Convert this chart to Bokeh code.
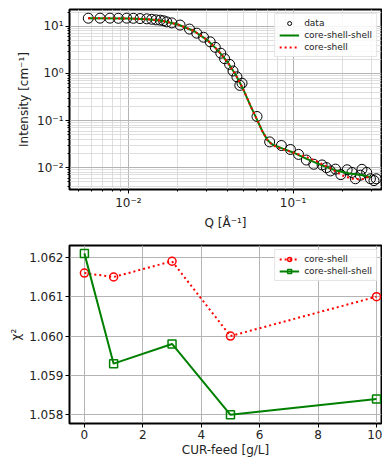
from bokeh.plotting import figure
from bokeh.layouts import column
from bokeh.models import (FixedTicker, CustomJSTickFormatter, Legend, LegendItem,
                          NumeralTickFormatter)
from bokeh.embed import file_html
from bokeh.resources import INLINE

# ---- top panel data (SAXS curve) ----
q_data = [0.00571, 0.00673, 0.00773, 0.00869, 0.00977, 0.01072, 0.01177, 0.01293,
          0.01387, 0.01474, 0.0156, 0.01634, 0.0171, 0.01835, 0.0206, 0.0235,
          0.0260, 0.0286, 0.0314, 0.0337, 0.0364, 0.0384, 0.0412, 0.0432,
          0.0456, 0.0475, 0.0490, 0.0604, 0.0721, 0.0849, 0.0964, 0.108,
          0.1204, 0.1336, 0.150, 0.1595, 0.1686, 0.181, 0.195, 0.213,
          0.228, 0.239, 0.256, 0.262, 0.280, 0.295, 0.310, 0.320]
i_data = [14.96, 15.0, 15.0, 14.9, 15.0, 14.9, 14.7, 14.5,
          14.2, 13.8, 13.6, 13.2, 12.5, 11.9, 10.7, 8.8,
          7.2, 5.9, 4.7, 3.6, 2.7, 2.06, 1.56, 1.13,
          0.85, 0.56, 0.62, 0.122, 0.0352, 0.0295, 0.0243, 0.0191,
          0.0145, 0.0118, 0.0114, 0.0100, 0.0085, 0.0093, 0.0071, 0.0090,
          0.0079, 0.0058, 0.0069, 0.0092, 0.0079, 0.0058, 0.0053, 0.0058]

q_css = [0.0057, 0.01, 0.013, 0.016, 0.02, 0.025, 0.03, 0.035, 0.04, 0.045, 0.05,
         0.055, 0.06, 0.065, 0.07, 0.075, 0.085, 0.1, 0.12, 0.15, 0.18, 0.22, 0.26, 0.295]
i_css = [14.9, 14.8, 14.2, 13.2, 11.0, 8.0, 5.2, 3.1, 1.75, 0.92, 0.45,
         0.21, 0.11, 0.06, 0.038, 0.031, 0.026, 0.021, 0.0155, 0.0112, 0.0088, 0.0075, 0.0070, 0.0063]

q_cs = [0.0057, 0.01, 0.013, 0.016, 0.02, 0.025, 0.03, 0.035, 0.04, 0.045, 0.05,
        0.055, 0.06, 0.065, 0.07, 0.075, 0.085, 0.1, 0.12, 0.14, 0.17, 0.2, 0.23, 0.26, 0.28, 0.295]
i_cs = [14.9, 14.8, 14.2, 13.2, 11.0, 8.0, 5.2, 3.1, 1.75, 0.92, 0.45,
        0.21, 0.11, 0.06, 0.038, 0.030, 0.025, 0.021, 0.017, 0.0135, 0.0095, 0.0068, 0.0058, 0.0056, 0.0062, 0.0065]

# ---- bottom panel data (chi^2) ----
feed = [0, 1, 3, 5, 10]
chi_cs = [1.0616, 1.0615, 1.0619, 1.0600, 1.0610]
chi_css = [1.0621, 1.0593, 1.0598, 1.0580, 1.0584]

FONT = "DejaVu Sans"

log_fmt = CustomJSTickFormatter(code="""
const e = Math.round(Math.log10(tick));
const sup = {'-':'\\u207b','0':'\\u2070','1':'\\u00b9','2':'\\u00b2','3':'\\u00b3',
             '4':'\\u2074','5':'\\u2075','6':'\\u2076','7':'\\u2077','8':'\\u2078','9':'\\u2079'};
return '10' + String(e).split('').map(c => sup[c]).join('');
""")


def style(p):
    p.outline_line_color = "black"
    p.outline_line_width = 2
    p.background_fill_color = "white"
    p.border_fill_color = "white"
    for ax in (p.xaxis, p.yaxis):
        ax.axis_line_color = "black"
        ax.axis_line_width = 1
        ax.major_tick_in = 0
        ax.major_tick_out = 4
        ax.minor_tick_in = 0
        ax.minor_tick_out = 2
        ax.major_label_text_font = FONT
        ax.major_label_text_font_size = "12px"
        ax.major_label_text_color = "#222222"
        ax.axis_label_text_font = FONT
        ax.axis_label_text_font_size = "12px"
        ax.axis_label_text_font_style = "normal"
        ax.axis_label_text_color = "#222222"
        ax.major_label_standoff = 2
        ax.axis_label_standoff = 3
    p.xgrid.grid_line_color = "#b4b4b4"
    p.ygrid.grid_line_color = "#b4b4b4"
    p.xgrid.grid_line_width = 1
    p.ygrid.grid_line_width = 1


# ---------------- top figure ----------------
p1 = figure(width=382, height=232, x_axis_type="log", y_axis_type="log",
            x_range=(0.00439, 0.3444), y_range=(0.00343, 22.9),
            output_backend="svg", toolbar_location=None,
            min_border_left=69, min_border_right=1, min_border_top=9, min_border_bottom=43)
style(p1)
dec_x = [0.001, 0.01, 0.1]
dec_y = [0.001, 0.01, 0.1, 1, 10]
p1.xaxis.ticker = FixedTicker(ticks=[0.01, 0.1],
                              minor_ticks=[d * m for d in dec_x for m in range(2, 10)])
p1.yaxis.ticker = FixedTicker(ticks=[0.01, 0.1, 1, 10],
                              minor_ticks=[d * m for d in dec_y for m in range(2, 10)])
p1.xaxis.formatter = log_fmt
p1.yaxis.formatter = log_fmt
p1.xaxis.axis_label = "Q [Å⁻¹]"
p1.yaxis.axis_label = "Intensity [cm⁻¹]"
p1.xgrid.minor_grid_line_color = "#d6d6d6"
p1.ygrid.minor_grid_line_color = "#d6d6d6"
p1.xgrid.minor_grid_line_width = 0.8
p1.ygrid.minor_grid_line_width = 0.8

r_data = p1.scatter(q_data, i_data, marker="circle", size=10, fill_color=None,
                    line_color="black", line_width=1)
r_css = p1.line(q_css, i_css, line_color="green", line_width=2)
r_cs = p1.line(q_cs, i_cs, line_color="red", line_width=2, line_dash="2 3")

leg1 = Legend(items=[LegendItem(label="data", renderers=[r_data]),
                     LegendItem(label="core-shell-shell", renderers=[r_css]),
                     LegendItem(label="core-shell", renderers=[r_cs])],
              location="top_right")
p1.add_layout(leg1)

# ---------------- bottom figure ----------------
p2 = figure(width=382, height=227, x_range=(-0.51, 10.17), y_range=(1.05778, 1.0623),
            output_backend="svg", toolbar_location=None,
            min_border_left=69, min_border_right=1, min_border_top=13, min_border_bottom=32)
style(p2)
p2.xaxis.ticker = FixedTicker(ticks=[0, 2, 4, 6, 8, 10])
p2.yaxis.ticker = FixedTicker(ticks=[1.058, 1.059, 1.060, 1.061, 1.062])
p2.yaxis.formatter = NumeralTickFormatter(format="0.000")
p2.xaxis.minor_tick_line_color = None
p2.yaxis.minor_tick_line_color = None
p2.xaxis.axis_label = "CUR-feed [g/L]"
p2.yaxis.axis_label = "χ²"
p2.xaxis.axis_label_standoff = 1

l_cs = p2.line(feed, chi_cs, line_color="red", line_width=2, line_dash="2 3")
s_cs = p2.scatter(feed, chi_cs, marker="circle", size=8, fill_color=None,
                  line_color="red", line_width=1.5)
l_css = p2.line(feed, chi_css, line_color="green", line_width=2)
s_css = p2.scatter(feed, chi_css, marker="square", size=8, fill_color=None,
                   line_color="green", line_width=1.5)

leg2 = Legend(items=[LegendItem(label="core-shell", renderers=[l_cs, s_cs]),
                     LegendItem(label="core-shell-shell", renderers=[l_css, s_css])],
              location="top_right")
p2.add_layout(leg2)

for leg in (leg1, leg2):
    leg.label_text_font = FONT
    leg.label_text_font_size = "9px"
    leg.label_text_color = "#222222"
    leg.label_height = 10
    leg.glyph_height = 10
    leg.glyph_width = 20
    leg.spacing = 2
    leg.padding = 4
    leg.margin = 4
    leg.border_line_color = "#cccccc"
    leg.border_line_width = 1
    leg.background_fill_alpha = 0.85

layout = column(p1, p2)
open("out.html", "w", encoding="utf-8").write(file_html(layout, INLINE))
